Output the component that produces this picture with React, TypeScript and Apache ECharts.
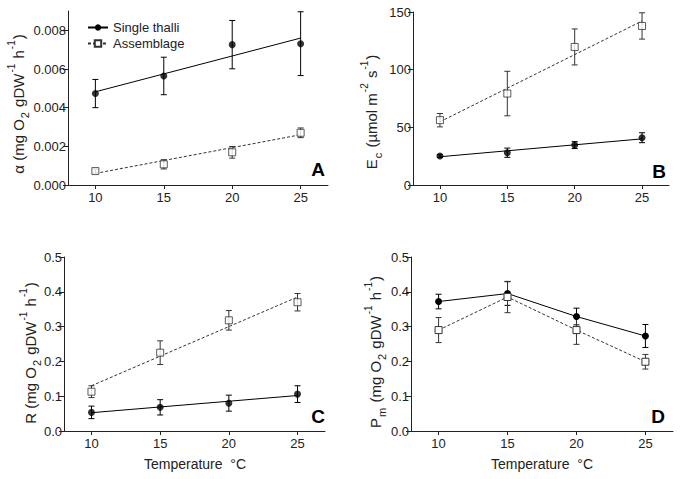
import React, { useEffect, useRef } from "react";
import * as echarts from "echarts";

const FONT = "'Liberation Sans', Arial, sans-serif";

// Temperatures (°C)
const temps = [10, 15, 20, 25];
const xTicks = [10, 15, 20, 25];

// Panel A: alpha
const alphaSingle = [0.00473, 0.00564, 0.00726, 0.00731];
const alphaSingleErr = [0.00073, 0.00097, 0.00125, 0.00165];
const alphaAssem = [0.00072, 0.00107, 0.00169, 0.0027];
const alphaAssemErr = [0.0001, 0.00024, 0.0003, 0.00025];
const alphaSingleFit = [0.00482, 0.0076];
const alphaAssemFit = [0.0006, 0.0026];
const alphaTicks = [0, 0.002, 0.004, 0.006, 0.008];

// Panel B: Ec
const ecSingle = [25.1, 28, 34.6, 41];
const ecSingleErr = [1.2, 4, 3, 4.3];
const ecAssem = [56.2, 79.3, 119.7, 137.9];
const ecAssemErr = [5.8, 19.3, 15.6, 11.4];
const ecSingleFit = [24.5, 40];
const ecAssemFit = [54.8, 142.2];
const ecTicks = [0, 50, 100, 150];

// Panel C: R
const rSingle = [0.0535, 0.068, 0.08, 0.106];
const rSingleErr = [0.018, 0.022, 0.023, 0.024];
const rAssem = [0.113, 0.225, 0.318, 0.37];
const rAssemErr = [0.017, 0.034, 0.028, 0.025];
const rSingleFit = [0.0526, 0.102];
const rAssemFit = [0.13, 0.385];

// Panel D: Pm
const pmSingle = [0.372, 0.395, 0.329, 0.273];
const pmSingleErr = [0.021, 0.034, 0.024, 0.033];
const pmAssem = [0.29, 0.385, 0.29, 0.199];
const pmAssemErr = [0.036, 0.045, 0.041, 0.021];
const halfTicks = [0, 0.1, 0.2, 0.3, 0.4, 0.5];

const AX = "#222";

function xAxis(gi: number) {
  return {
    type: "value",
    gridIndex: gi,
    min: 8,
    max: 27,
    axisLine: { show: true, lineStyle: { color: AX, width: 1 } },
    axisTick: { show: true, customValues: xTicks, length: 4, lineStyle: { color: AX } },
    axisLabel: { customValues: xTicks, fontSize: 13, color: "#222", fontFamily: FONT, margin: 6 },
    splitLine: { show: false },
  };
}

function yAxis(gi: number, max: number, ticks: number[], fmt: (v: number) => string) {
  return {
    type: "value",
    gridIndex: gi,
    min: 0,
    max,
    axisLine: { show: true, lineStyle: { color: AX, width: 1 } },
    axisTick: { show: true, customValues: ticks, length: 5, lineStyle: { color: AX } },
    axisLabel: {
      customValues: ticks,
      fontSize: 13,
      color: "#222",
      fontFamily: FONT,
      margin: 2,
      formatter: fmt,
    },
    splitLine: { show: false },
  };
}

function errSeries(gi: number, vals: number[], errs: number[], color: string) {
  return {
    type: "custom",
    xAxisIndex: gi,
    yAxisIndex: gi,
    silent: true,
    z: 2,
    data: temps.map((t, i) => [t, vals[i], errs[i]]),
    renderItem: (_p: any, api: any) => {
      const x = api.value(0);
      const y = api.value(1);
      const e = api.value(2);
      const top = api.coord([x, y + e]);
      const bot = api.coord([x, y - e]);
      const w = 3;
      const st = { stroke: color, lineWidth: 1 };
      return {
        type: "group",
        children: [
          { type: "line", shape: { x1: top[0], y1: top[1], x2: bot[0], y2: bot[1] }, style: st },
          { type: "line", shape: { x1: top[0] - w, y1: top[1], x2: top[0] + w, y2: top[1] }, style: st },
          { type: "line", shape: { x1: bot[0] - w, y1: bot[1], x2: bot[0] + w, y2: bot[1] }, style: st },
        ],
      };
    },
  };
}

const singleMarker = { symbol: "circle", symbolSize: 7, itemStyle: { color: "#000" } };
const assemMarker = {
  symbol: "rect",
  symbolSize: 7,
  itemStyle: { color: "#fff", borderColor: "#333", borderWidth: 1 },
};

function scatter(gi: number, vals: number[], marker: any) {
  return {
    type: "scatter",
    xAxisIndex: gi,
    yAxisIndex: gi,
    silent: true,
    z: 4,
    data: temps.map((t, i) => [t, vals[i]]),
    ...marker,
  };
}

function fitLine(gi: number, fit: number[], dashed: boolean) {
  return {
    type: "line",
    xAxisIndex: gi,
    yAxisIndex: gi,
    silent: true,
    z: 1,
    showSymbol: false,
    symbol: "none",
    data: [
      [temps[0], fit[0]],
      [temps[temps.length - 1], fit[1]],
    ],
    lineStyle: dashed
      ? { color: "#333", width: 1, type: [3, 2] }
      : { color: "#000", width: 1, type: "solid" },
  };
}

const titleRich = {
  t: { fontSize: 15, fontFamily: FONT, color: "#222", lineHeight: 24, verticalAlign: "middle" },
  sup: { fontSize: 10, fontFamily: FONT, color: "#222", lineHeight: 11, verticalAlign: "top", padding: [0, 1, 0, 1] },
  sub: { fontSize: 11, fontFamily: FONT, color: "#222", lineHeight: 11, verticalAlign: "bottom", padding: [0, 1, 0, 1] },
};

function yTitle(x: number, y: number, text: string) {
  return {
    type: "text",
    x,
    y,
    rotation: Math.PI / 2,
    silent: true,
    style: {
      text,
      rich: titleRich,
      align: "center",
      verticalAlign: "middle",
      fontFamily: FONT,
      fontSize: 15,
      fill: "#222",
    },
  };
}

function plainText(x: number, y: number, text: string, size: number, bold: boolean) {
  return {
    type: "text",
    x,
    y,
    silent: true,
    style: {
      text,
      align: "center",
      verticalAlign: "middle",
      fontFamily: FONT,
      fontSize: size,
      fontWeight: bold ? "bold" : "normal",
      fill: bold ? "#000" : "#222",
    },
  };
}

export default function App() {
  const ref = useRef<HTMLDivElement>(null);
  useEffect(() => {
    if (!ref.current) return;
    const chart = echarts.init(ref.current, undefined, { renderer: "svg" });
    const fmtA = (v: number) => v.toFixed(3);
    const fmtB = (v: number) => String(Math.round(v));
    const fmtC = (v: number) => v.toFixed(1);
    const option: any = {
      animation: false,
      backgroundColor: "#fff",
      grid: [
        { left: 68, top: 11, width: 260, height: 174 },
        { left: 413, top: 12, width: 256, height: 173 },
        { left: 64, top: 257, width: 261, height: 174 },
        { left: 411, top: 257, width: 262, height: 174 },
      ],
      xAxis: [xAxis(0), xAxis(1), xAxis(2), xAxis(3)],
      yAxis: [
        yAxis(0, 0.009, alphaTicks, fmtA),
        yAxis(1, 150, ecTicks, fmtB),
        yAxis(2, 0.5, halfTicks, fmtC),
        yAxis(3, 0.5, halfTicks, fmtC),
      ],
      legend: {
        data: ["Single thalli", "Assemblage"],
        orient: "vertical",
        left: 82,
        top: 16,
        itemWidth: 20,
        itemHeight: 8,
        itemGap: 3,
        selectedMode: false,
        textStyle: { fontSize: 13, color: "#222", fontFamily: FONT },
      },
      series: [
        // Panel D connected series (also provide legend icons)
        {
          name: "Single thalli",
          type: "line",
          xAxisIndex: 3,
          yAxisIndex: 3,
          z: 3,
          data: temps.map((t, i) => [t, pmSingle[i]]),
          ...singleMarker,
          lineStyle: { color: "#000", width: 1, type: "solid" },
        },
        {
          name: "Assemblage",
          type: "line",
          xAxisIndex: 3,
          yAxisIndex: 3,
          z: 3,
          data: temps.map((t, i) => [t, pmAssem[i]]),
          ...assemMarker,
          lineStyle: { color: "#333", width: 1, type: [3, 2] },
        },
        errSeries(3, pmSingle, pmSingleErr, "#000"),
        errSeries(3, pmAssem, pmAssemErr, "#333"),
        // Panel A
        fitLine(0, alphaSingleFit, false),
        fitLine(0, alphaAssemFit, true),
        errSeries(0, alphaSingle, alphaSingleErr, "#000"),
        errSeries(0, alphaAssem, alphaAssemErr, "#333"),
        scatter(0, alphaSingle, singleMarker),
        scatter(0, alphaAssem, assemMarker),
        // Panel B
        fitLine(1, ecSingleFit, false),
        fitLine(1, ecAssemFit, true),
        errSeries(1, ecSingle, ecSingleErr, "#000"),
        errSeries(1, ecAssem, ecAssemErr, "#333"),
        scatter(1, ecSingle, singleMarker),
        scatter(1, ecAssem, assemMarker),
        // Panel C
        fitLine(2, rSingleFit, false),
        fitLine(2, rAssemFit, true),
        errSeries(2, rSingle, rSingleErr, "#000"),
        errSeries(2, rAssem, rAssemErr, "#333"),
        scatter(2, rSingle, singleMarker),
        scatter(2, rAssem, assemMarker),
      ],
      graphic: [
        yTitle(18, 104, "{t|α (mg O}{sub|2}{t| gDW}{sup|-1}{t| h}{sup|-1}{t|)}"),
        yTitle(371, 112, "{t|E}{sub|c}{t| (µmol m}{sup|-2}{t| s}{sup|-1}{t|)}"),
        yTitle(30, 353, "{t|R (mg O}{sub|2}{t| gDW}{sup|-1}{t| h}{sup|-1}{t|)}"),
        yTitle(375, 352, "{t|P}{sub|m}{t| (mg O}{sub|2}{t| gDW}{sup|-1}{t| h}{sup|-1}{t|)}"),
        plainText(195, 464, "Temperature  °C", 14, false),
        plainText(542, 464, "Temperature  °C", 14, false),
        plainText(318, 169, "A", 19, true),
        plainText(659, 171, "B", 19, true),
        plainText(318, 416, "C", 19, true),
        plainText(658, 416, "D", 19, true),
      ],
    };
    chart.setOption(option);
    return () => chart.dispose();
  }, []);
  return (
    <div
      ref={ref}
      style={{ position: "fixed", left: 0, top: 0, width: 680, height: 479, background: "#fff" }}
    />
  );
}
